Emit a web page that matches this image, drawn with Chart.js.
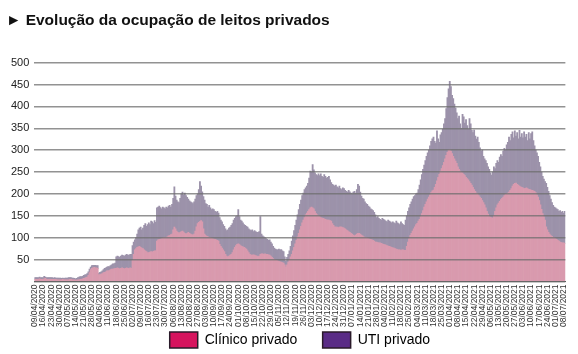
<!DOCTYPE html>
<html lang="pt-BR">
<head>
<meta charset="utf-8">
<script src="https://cdn.jsdelivr.net/npm/chart.js@4/dist/chart.umd.min.js"></script>
<style>
  html, body { margin: 0; padding: 0; background: #fff; }
  #wrap { width: 578px; height: 354px; position: relative; }
</style>
</head>
<body>
<div id="wrap"><canvas id="grafico"></canvas></div>
<script>
// Dados diários a partir de 09/04/2020 (uma linha = uma semana)
const dataInicio = new Date(2020, 3, 9);

const clinico = [
  5,5,5,5,6,5,5,  5,6,7,5,5,5,5,  5,5,5,5,5,4,4,  4,4,4,5,4,4,4,
  4,4,5,5,4,4,4,  3,3,4,4,5,5,6,  7,8,9,10,14,20,27,  30,31,32,31,31,30,15,
  16,17,18,20,21,22,24,  24,25,27,28,28,29,30,  30,31,30,29,30,31,30,  29,30,31,30,30,31,30,
  48,62,72,75,78,79,80,  78,76,75,72,70,68,66,  66,67,68,67,69,70,70,  92,95,96,97,98,99,100,
  100,101,102,104,105,107,108,  118,124,120,115,112,110,112,  114,115,113,110,108,110,112,  110,108,107,106,108,115,125,
  132,135,137,139,136,120,108,  105,103,102,100,100,99,98,  97,96,95,94,92,85,80,  76,72,68,62,58,56,58,
  60,62,66,72,78,82,85,  86,84,82,80,79,78,76,  74,70,66,62,60,60,61,  60,59,58,57,58,62,63,
  63,62,63,62,62,61,60,  58,55,52,50,49,48,47,  46,45,44,43,42,38,33,  38,44,50,56,62,70,78,
  86,94,102,110,118,126,134,  140,146,152,156,160,164,168,  170,168,166,160,155,152,150,  148,146,145,144,143,142,141,
  140,140,139,138,132,128,125,  124,124,123,124,125,124,123,  122,120,118,116,114,112,110,  108,106,104,106,108,110,110,
  108,106,104,102,101,100,99,  98,97,96,95,94,92,90,  90,89,88,88,87,86,85,  84,83,82,81,80,79,78,
  77,76,75,74,73,72,72,  71,72,72,71,71,80,90,  98,105,110,115,120,125,130,  133,138,142,148,155,162,170,
  176,182,188,193,198,203,207,  209,215,222,230,238,245,252,  258,265,272,280,288,295,300,  301,298,292,286,280,275,270,
  262,256,252,250,248,245,242,  238,235,232,228,224,220,215,  210,206,202,200,196,193,190,  185,180,175,168,160,154,148,
  147,146,145,150,160,168,175,  179,183,187,190,193,196,199,  200,202,204,208,212,218,222,  224,225,222,220,218,216,215,
  214,212,213,214,212,210,210,  209,208,207,206,203,198,193,  185,175,165,155,148,140,125,  118,112,108,105,103,101,100,
  98,96,94,92,90,89,88,  88,87
];

const uti = [
  4,4,4,4,4,4,4,  4,6,3,4,4,4,4,  4,4,3,4,3,4,4,  4,4,3,3,3,4,4,
  4,5,4,4,4,4,3,  3,4,5,6,6,6,6,  7,7,7,8,8,8,6,  6,6,5,6,5,6,4,
  5,5,6,7,9,9,9,  10,9,9,10,12,11,12,  26,27,27,26,28,29,29,  29,30,31,30,30,31,32,
  34,28,23,25,30,39,42,  46,42,47,56,62,58,64,  68,63,70,69,63,69,65,  76,75,76,72,68,71,68,
  66,69,66,68,69,63,68,  72,92,75,71,70,70,78,  86,89,85,92,88,82,76,  74,74,73,72,74,73,71,
  68,75,91,79,69,74,78,  73,73,68,74,68,65,68,  67,64,63,66,64,61,60,  60,58,58,58,58,62,64,
  64,66,66,68,66,66,65,  78,64,58,58,55,52,52,  52,54,54,56,56,58,53,  56,55,54,55,56,86,45,
  41,40,37,36,34,33,35,  32,31,28,26,25,25,25,  28,27,29,27,26,18,13,  17,18,20,24,30,34,38,
  42,46,50,54,58,60,62,  62,64,62,62,64,72,84,  80,99,89,88,89,90,96,  94,100,95,94,101,98,95,
  98,100,93,88,90,92,93,  96,92,91,94,87,86,91,  90,88,88,88,94,93,92,  92,98,102,96,102,112,108,
  96,89,86,86,81,78,77,  74,73,70,69,68,66,62,  56,59,56,54,53,58,57,  56,55,54,59,58,57,56,
  59,58,57,64,61,60,58,  65,60,58,57,69,70,70,  70,71,72,73,74,71,70,  69,72,78,84,89,94,96,
  100,104,106,107,112,117,119,  121,105,94,114,88,73,83,  82,83,88,92,107,125,140,  156,147,133,132,125,121,115,
  110,122,108,100,134,131,120,  132,121,116,144,136,125,125,  136,126,123,130,122,112,108,  115,106,105,108,110,108,108,
  101,97,105,112,98,102,101,  93,101,103,96,105,108,101,  112,116,126,114,124,124,106,  120,107,118,106,127,114,123,
  114,130,117,122,110,130,116,  129,134,115,104,97,96,93,  87,87,85,85,86,88,99,  97,94,88,83,77,73,70,
  70,70,70,68,72,69,72,  68,73
];

const nomesSeries = ['Clínico privado', 'UTI privado'];
const coresBarras = ['#d99aae', '#9c92aa'];
const coresLegenda = ['#d6135e', '#5a2b86'];
const ticksY = [50, 100, 150, 200, 250, 300, 350, 400, 450, 500];

// rótulos dd/mm/aaaa, um por dia
const rotulos = clinico.map((_, i) => {
  const d = new Date(dataInicio);
  d.setDate(d.getDate() + i);
  const dd = String(d.getDate()).padStart(2, '0');
  const mm = String(d.getMonth() + 1).padStart(2, '0');
  return dd + '/' + mm + '/' + d.getFullYear();
});

const fonte = "'Liberation Sans', Arial, sans-serif";
const espaco = '\u00a0'.repeat(6); // afasta os dois itens da legenda

new Chart(document.getElementById('grafico'), {
  type: 'bar',
  data: {
    labels: rotulos,
    datasets: [
      { label: nomesSeries[0], data: clinico, backgroundColor: coresBarras[0], barPercentage: 1, categoryPercentage: 1, borderWidth: 0 },
      { label: nomesSeries[1], data: uti, backgroundColor: coresBarras[1], barPercentage: 1, categoryPercentage: 1, borderWidth: 0 }
    ]
  },
  options: {
    responsive: true,
    maintainAspectRatio: false,
    animation: false,
    layout: { padding: { left: 6, right: 9, bottom: -4 } },
    plugins: {
      title: {
        display: true,
        text: '► Evolução da ocupação de leitos privados',
        align: 'start',
        color: '#111',
        font: { family: fonte, size: 15.5, weight: 'bold' },
        padding: { top: 11, bottom: 33 }
      },
      tooltip: { enabled: false },
      legend: {
        position: 'bottom',
        fullSize: false,
        labels: {
          boxWidth: 28,
          boxHeight: 16,
          padding: 2,
          color: '#111',
          font: { family: fonte, size: 14 },
          generateLabels: () => nomesSeries.map((n, i) => ({
            text: i === 0 ? n + espaco : n,
            fillStyle: coresLegenda[i],
            strokeStyle: '#2a1a2a',
            lineWidth: 1.5,
            datasetIndex: i
          }))
        }
      }
    },
    scales: {
      x: {
        stacked: true,
        grid: { display: false, drawTicks: false },
        border: { display: true, color: '#555' },
        ticks: {
          autoSkip: false,
          minRotation: 90,
          maxRotation: 90,
          padding: 3,
          color: '#333',
          font: { family: fonte, size: 8.5 },
          callback: (v, i) => (i % 7 === 0 ? rotulos[i] : '')
        }
      },
      y: {
        stacked: true,
        min: 0,
        max: 500,
        afterBuildTicks: (eixo) => { eixo.ticks = [0].concat(ticksY).map(v => ({ value: v })); },
        grid: { color: 'rgba(110,110,110,0.75)', lineWidth: 1.5, drawTicks: false, z: 1 },
        border: { display: false },
        ticks: {
          padding: 5,
          color: '#222',
          font: { family: fonte, size: 11 },
          callback: (v) => (v === 0 ? '' : v)
        }
      }
    }
  }
});
</script>
</body>
</html>
